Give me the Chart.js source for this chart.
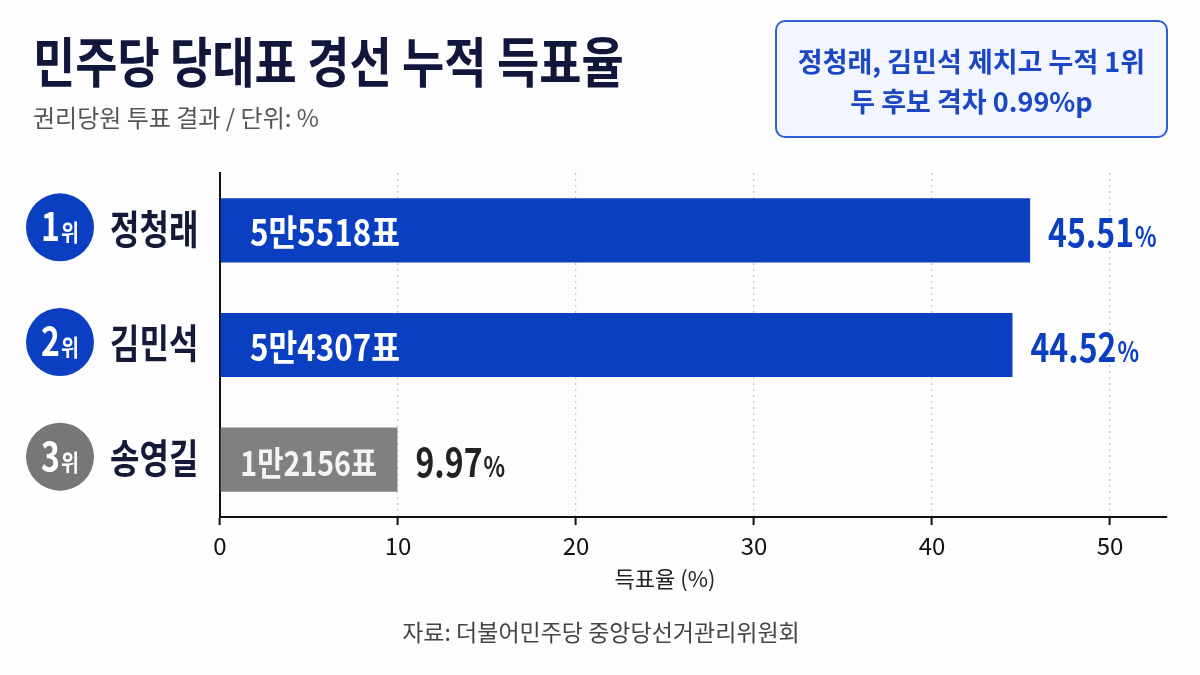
<!DOCTYPE html>
<html><head><meta charset="utf-8">
<script src="https://cdn.jsdelivr.net/npm/chart.js@4.4.1/dist/chart.umd.min.js"></script>
<style>
html,body{margin:0;padding:0;background:#fdfdfd;}
body{width:1200px;height:675px;position:relative;overflow:hidden;font-family:"Noto Sans CJK KR","Noto Sans",sans-serif;}
#wrap{position:absolute;left:0;top:0;width:1200px;height:675px;}
.t{position:absolute;white-space:nowrap;transform-origin:left top;line-height:1;}
#box{position:absolute;left:775px;top:20px;width:393px;height:118px;border:2px solid #2d5fd8;border-radius:10px;background:#f3f6fe;box-sizing:border-box;}
.bl{position:absolute;left:0;width:100%;text-align:center;font-weight:700;color:#1b47c4;font-size:27px;line-height:1;}
</style></head><body>
<div id="wrap"><canvas id="c" width="1200" height="675"></canvas></div>
<div class="t" style="left:33px;top:33px;font-size:54px;font-weight:700;color:#11163a;transform:scaleX(0.85)">민주당 당대표 경선 누적 득표율</div>
<div class="t" style="left:33px;top:105px;font-size:24px;font-weight:400;color:#555;">권리당원 투표 결과 / 단위: %</div>
<div id="box">
  <div class="bl" style="top:25px">정청래, 김민석 제치고 누적 1위</div>
  <div class="bl" style="top:65px">두 후보 격차 0.99%p</div>
</div>
<div class="t" style="left:0;width:1330px;text-align:center;top:566px;font-size:22px;color:#222;">득표율 (%)</div>
<div class="t" style="left:0;width:1202px;text-align:center;top:620px;font-size:23px;color:#444;">자료: 더불어민주당 중앙당선거관리위원회</div>
<script>
const candidates = ['정청래', '김민석', '송영길'];
const ranks = ['1', '2', '3'];
const shares = [45.51, 44.52, 9.97];
const votes = ['5만5518표', '5만4307표', '1만2156표'];
const xTicks = [0, 10, 20, 30, 40, 50];

const BLUE = '#0b3fc1';
const GRAY = '#808080';
const CIRCLE_GRAY = '#777777';
const DARK = '#141a38';
const FONT = '"Noto Sans CJK KR","Noto Sans",sans-serif';

function txt(ctx, s, x, y, size, weight, color, sx, align, base) {
  ctx.save();
  ctx.translate(x, y);
  ctx.scale(sx, 1);
  ctx.font = weight + ' ' + size + 'px ' + FONT;
  ctx.fillStyle = color;
  ctx.textAlign = align || 'left';
  ctx.textBaseline = base || 'middle';
  ctx.fillText(s, 0, 0);
  ctx.restore();
}
function tw(ctx, s, size, weight, sx) {
  ctx.save();
  ctx.font = weight + ' ' + size + 'px ' + FONT;
  const w = ctx.measureText(s).width * sx;
  ctx.restore();
  return w;
}

const overlay = {
  id: 'overlay',
  afterDatasetsDraw(chart) {
    const ctx = chart.ctx;
    const meta = chart.getDatasetMeta(0);
    const left = chart.chartArea.left;
    meta.data.forEach((bar, i) => {
      const y = bar.y;
      const top = i < 2;
      const cy = y - 3;
      ctx.beginPath();
      ctx.arc(60, cy, 34, 0, Math.PI * 2);
      ctx.fillStyle = top ? BLUE : CIRCLE_GRAY;
      ctx.fill();
      const w1 = tw(ctx, ranks[i], 40, 700, 0.8);
      const w2 = tw(ctx, '위', 23, 700, 0.85);
      const sx0 = 60 - (w1 + w2 + 1) / 2;
      txt(ctx, ranks[i], sx0, cy + 14, 40, 700, '#fff', 0.8, 'left', 'alphabetic');
      txt(ctx, '위', sx0 + w1 + 1, cy + 14, 23, 700, '#fff', 0.85, 'left', 'alphabetic');
      txt(ctx, candidates[i], 110, y - 2, 40, 700, DARK, 0.8, 'left', 'middle');
      if (top) {
        txt(ctx, votes[i], left + 30, y + 16, 36, 700, '#fff', 0.87, 'left', 'alphabetic');
      } else {
        txt(ctx, votes[i], (left + bar.x) / 2, y + 16, 34, 700, '#f4f4f4', 0.84, 'center', 'alphabetic');
      }
      const vs = shares[i].toFixed(2);
      const vcol = top ? BLUE : '#222';
      const vx = bar.x + 18;
      const vw = tw(ctx, vs, 40, 700, 0.8);
      txt(ctx, vs, vx, y + 17, 40, 700, vcol, 0.8, 'left', 'alphabetic');
      txt(ctx, '%', vx + vw + 1, y + 17, 28, 700, vcol, 0.8, 'left', 'alphabetic');
    });
  }
};

new Chart(document.getElementById('c'), {
  type: 'bar',
  data: {
    labels: candidates,
    datasets: [{
      data: shares,
      backgroundColor: ctx => ctx.dataIndex < 2 ? BLUE : GRAY,
      borderWidth: 0,
      barPercentage: 0.56,
      categoryPercentage: 1.0
    }]
  },
  options: {
    indexAxis: 'y',
    responsive: false,
    animation: false,
    devicePixelRatio: 1,
    layout: { padding: { left: 220, right: 33, top: 173, bottom: 0 } },
    plugins: { legend: { display: false }, tooltip: { enabled: false } },
    scales: {
      x: {
        min: 0,
        max: 53.2,
        afterFit: s => { s.height = 158; },
        afterBuildTicks: s => { s.ticks = xTicks.map(v => ({ value: v })); },
        ticks: { includeBounds: false, color: '#111', padding: 6, font: { family: FONT, size: 24 } },
        grid: {
          color: ctx => ctx.tick && ctx.tick.value === 0 ? 'rgba(0,0,0,0)' : '#c4c4c4',
          lineWidth: 1.2,
          tickColor: '#111',
          tickLength: 8,
          tickWidth: 2,
          tickBorderDash: []
        },
        border: { display: true, color: '#111', width: 2, dash: [2, 4] }
      },
      y: {
        afterFit: s => { s.width = 0; },
        ticks: { display: false },
        grid: { display: false, drawTicks: false },
        border: { display: true, color: '#111', width: 2 }
      }
    }
  },
  plugins: [overlay]
});
</script>
</body></html>
